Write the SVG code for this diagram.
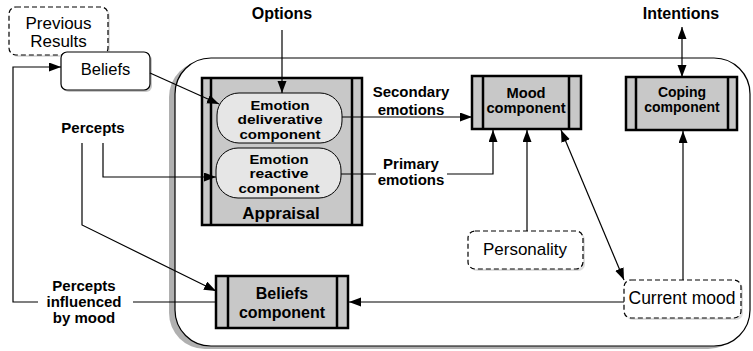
<svg xmlns="http://www.w3.org/2000/svg" width="753" height="351" viewBox="0 0 753 351">
<style>
.bl{font-family:"Liberation Sans",Arial,sans-serif;font-weight:bold;text-anchor:middle;fill:#000}
.nl{font-family:"Liberation Sans",Arial,sans-serif;text-anchor:middle;fill:#000}
.comp{fill:#c8c8c8;stroke:#000;stroke-width:2.5}
.bar{stroke:#000;stroke-width:2.5}
.pill{fill:#e6e6e6;stroke:#000;stroke-width:1}
.box{fill:#fff;stroke:#000;stroke-width:1.2}
.dash{fill:#fff;stroke:#000;stroke-width:1.2;stroke-dasharray:5,3}
.shadow{fill:#c8c8c8}
.conn path{fill:none;stroke:#000;stroke-width:1.2}
</style>
<defs>
<marker id="ah" markerUnits="userSpaceOnUse" markerWidth="13" markerHeight="10" refX="12" refY="4.5" orient="auto-start-reverse">
<path d="M0,0 L12,4.5 L0,9 z" fill="#000"/>
</marker>
</defs>
<rect width="753" height="351" fill="#fff"/>

<g id="container">
<rect x="169" y="61" width="575" height="288" rx="36" fill="#b0b0b0"/>
<rect x="175" y="58" width="575" height="288" rx="36" fill="#fff" stroke="#000" stroke-width="1.2"/>
</g>

<g id="previous-results">
<rect x="11" y="9" width="99" height="48" rx="7" class="shadow" opacity="0.6"/>
<rect x="9" y="7" width="99" height="48" rx="7" class="dash"/>
<text class="nl" x="58.5" y="29" font-size="17">Previous</text>
<text class="nl" x="58.5" y="47" font-size="17">Results</text>
</g>

<g id="beliefs">
<rect x="63" y="54" width="89" height="38" rx="6" class="shadow"/>
<rect x="61" y="52" width="89" height="38" rx="6" class="box"/>
<text class="nl" x="105.5" y="75" font-size="16.5">Beliefs</text>
</g>

<g id="appraisal">
<rect x="202" y="78" width="160" height="147" class="comp"/>
<line x1="211" y1="78" x2="211" y2="225" class="bar"/>
<line x1="352" y1="78" x2="352" y2="225" class="bar"/>
<text class="bl" x="281" y="219" font-size="17">Appraisal</text>
</g>

<g id="emotion-deliverative">
<rect x="217" y="93" width="125" height="50" rx="22" class="pill"/>
<text class="bl" x="280" y="109.5" font-size="13" textLength="59" lengthAdjust="spacingAndGlyphs">Emotion</text>
<text class="bl" x="280" y="124" font-size="13" textLength="85" lengthAdjust="spacingAndGlyphs">deliverative</text>
<text class="bl" x="280" y="138.5" font-size="13" textLength="81" lengthAdjust="spacingAndGlyphs">component</text>
</g>

<g id="emotion-reactive">
<rect x="216" y="148" width="125" height="50" rx="22" class="pill"/>
<text class="bl" x="279" y="163.5" font-size="13" textLength="59" lengthAdjust="spacingAndGlyphs">Emotion</text>
<text class="bl" x="279" y="178" font-size="13" textLength="59" lengthAdjust="spacingAndGlyphs">reactive</text>
<text class="bl" x="279" y="192.5" font-size="13" textLength="81" lengthAdjust="spacingAndGlyphs">component</text>
</g>

<g id="mood-component">
<rect x="472" y="76" width="109" height="53" class="comp"/>
<line x1="483" y1="76" x2="483" y2="129" class="bar"/>
<line x1="569" y1="76" x2="569" y2="129" class="bar"/>
<text class="bl" x="526" y="98" font-size="14.7">Mood</text>
<text class="bl" x="526" y="113" font-size="14.7">component</text>
</g>

<g id="coping-component">
<rect x="626" y="77" width="111" height="53" class="comp"/>
<line x1="636" y1="77" x2="636" y2="130" class="bar"/>
<line x1="728" y1="77" x2="728" y2="130" class="bar"/>
<text class="bl" x="682" y="97" font-size="14">Coping</text>
<text class="bl" x="682" y="112" font-size="14">component</text>
</g>

<g id="beliefs-component">
<rect x="216" y="276" width="132" height="52" class="comp"/>
<line x1="228" y1="276" x2="228" y2="328" class="bar"/>
<line x1="337" y1="276" x2="337" y2="328" class="bar"/>
<text class="bl" x="282" y="299" font-size="16">Beliefs</text>
<text class="bl" x="282" y="318" font-size="16">component</text>
</g>

<g id="personality">
<rect x="470" y="233" width="115" height="38" rx="7" class="shadow" opacity="0.6"/>
<rect x="468" y="231" width="115" height="38" rx="7" class="dash"/>
<text class="nl" x="525" y="255" font-size="17">Personality</text>
</g>

<g id="current-mood">
<rect x="626" y="282" width="117" height="38" rx="7" class="shadow" opacity="0.6"/>
<rect x="624" y="280" width="117" height="38" rx="7" class="dash"/>
<text class="nl" x="682" y="304" font-size="17.5">Current mood</text>
</g>

<g id="labels">
<text class="bl" x="282" y="19" font-size="16">Options</text>
<text class="bl" x="681" y="19" font-size="16">Intentions</text>
<text class="bl" x="93" y="133" font-size="15">Percepts</text>
<text class="bl" x="411" y="97" font-size="15">Secondary</text>
<text class="bl" x="411" y="115" font-size="15">emotions</text>
<text class="bl" x="411" y="169" font-size="15">Primary</text>
<text class="bl" x="411" y="185" font-size="15">emotions</text>
<text class="bl" x="84" y="291" font-size="15">Percepts</text>
<text class="bl" x="84" y="307" font-size="15">influenced</text>
<text class="bl" x="84" y="323" font-size="15">by mood</text>
</g>

<g id="connectors" class="conn">
<path d="M282,30 V93" marker-end="url(#ah)"/>
<path d="M682,27 V77" marker-start="url(#ah)" marker-end="url(#ah)"/>
<path d="M150,73 L219,104" marker-end="url(#ah)"/>
<path d="M103,143 V177 H216" marker-end="url(#ah)"/>
<path d="M82,143 V225 L216,291" marker-end="url(#ah)"/>
<path d="M342,117 H472" marker-end="url(#ah)"/>
<path d="M341,174 H376"/>
<path d="M447,174 H493 V130" marker-end="url(#ah)"/>
<path d="M527,231 V130" marker-end="url(#ah)"/>
<path d="M624,280 L561,130" marker-start="url(#ah)" marker-end="url(#ah)"/>
<path d="M683,280 V131" marker-end="url(#ah)"/>
<path d="M624,302 H349" marker-end="url(#ah)"/>
<path d="M216,302 H133"/>
<path d="M38,302 H13 V67 H61" marker-end="url(#ah)"/>
</g>
</svg>
